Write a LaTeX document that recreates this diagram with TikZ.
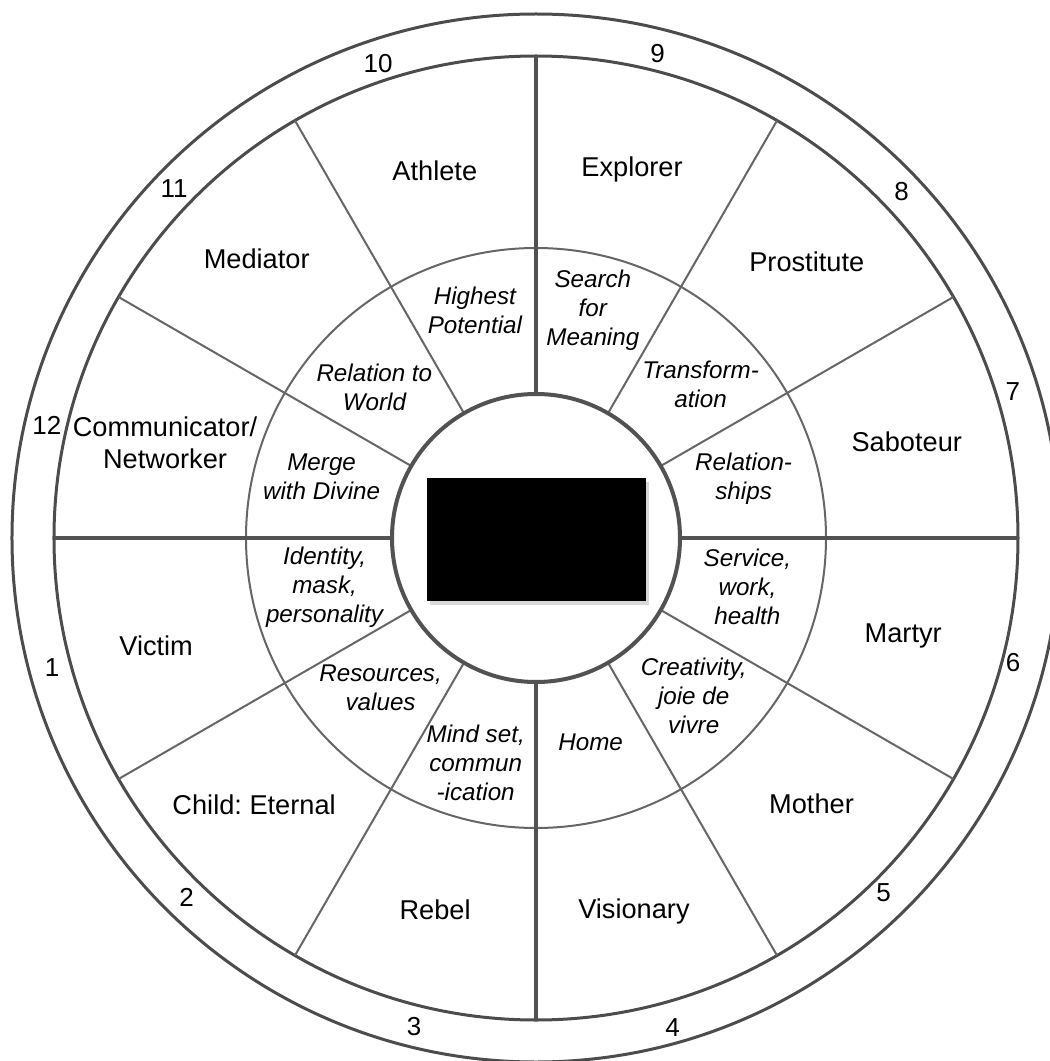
\documentclass[tikz,border=0pt]{standalone}
\usepackage{fontspec}
\setmainfont{Liberation Sans}
\usetikzlibrary{shadows}
\frenchspacing
\begin{document}
\begin{tikzpicture}[x=0.5pt,y=0.5pt,
    ring line/.style={draw=black!70,line width=1.5pt},
    main line/.style={draw=black!68,line width=2pt},
    thin line/.style={draw=black!60,line width=1pt},
    archetype/.style={font=\fontsize{13.6}{16}\selectfont,align=center},
    house/.style={font=\fontsize{12.1}{14.5}\selectfont\itshape,align=center},
    number/.style={font=\fontsize{13}{16}\selectfont}]
    \useasboundingbox (-536,-523) rectangle (514,538);
    \clip (-536,-523) rectangle (514,538);

    % Define rings
    \draw[ring line] (0,0) circle (524);
    \draw[ring line] (0,0) circle (482);
    \draw[thin line] (0,0) circle (290);

    % Define spokes
    \foreach \a in {30,60,120,150,210,240,300,330}
        \draw[thin line] (\a:144) -- (\a:482);
    \foreach \a in {0,90,180,270}
        \draw[main line] (\a:144) -- (\a:482);
    \draw[main line,fill=white] (0,0) circle (144);

    % Centre box
    \node[fill=black,minimum width=109.5pt,minimum height=61.5pt,inner sep=0pt,
          drop shadow={opacity=0.3,shadow xshift=1.5pt,shadow yshift=-2pt}]
          (centre) at (0.5,-1.5) {};

    % Archetypes
    \foreach \a/\r/\name [count=\k] in {195.9/395/Victim,
        223.4/388/Child: Eternal, 254.8/385/Rebel, 284.7/386/Visionary,
        -44/383/Mother, -14.9/380/Martyr, 14.5/383/Saboteur,
        45.6/387/Prostitute, 75.4/381/Explorer, 105.4/381/Athlete,
        135/395/Mediator, 165.6/383/{Communicator/\\Networker}}
        \node[archetype] (arch\k) at (\a:\r) {\name};

    % House numbers
    \foreach \a/\r [count=\k] in {195/501, 225.8/501, 256/504, 285.6/508,
        314.4/497, 345.4/493, 17.1/499, 43.5/504, 75.9/499, 108.4/500,
        136/503, 167/502}
        \node[number] (num\k) at (\a:\r) {\k};

    % Houses
    \foreach \a/\r/\t [count=\h] in {105/236/{Highest\\Potential},
        76/235/{Search\\for\\Meaning}, 43/225/{Transform-\\ation},
        16/216/{Relation-\\ships}, -13/217/{Service,\\work,\\health},
        -45/223/{Creativity,\\joie de\\vivre}, -75/211/{Home},
        255/233/{Mind set,\\commun\\-ication}, 224/216/{Resources,\\values},
        193/217/{Identity,\\mask,\\personality}, 164/223/{Merge\\with Divine},
        137/221/{Relation to\\World}}
        \node[house] (house\h) at (\a:\r) {\t};

\end{tikzpicture}
\end{document}
